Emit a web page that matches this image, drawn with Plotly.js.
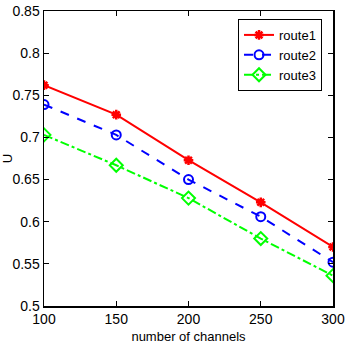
<!DOCTYPE html>
<html><head><meta charset="utf-8">
<script src="https://cdn.plot.ly/plotly-3.0.1.min.js"></script>
<style>html,body{margin:0;padding:0;background:#fff}#c{width:353px;height:349px}</style>
</head><body><div id="c"></div>
<script>
const channels = [100, 150, 200, 250, 300];
const route1 = [0.762, 0.727, 0.673, 0.623, 0.570];
const route2 = [0.739, 0.703, 0.650, 0.606, 0.552];
const route3 = [0.703, 0.667, 0.628, 0.580, 0.536];
const xTicks = [100, 150, 200, 250, 300];
const yTicks = [0.5, 0.55, 0.6, 0.65, 0.7, 0.75, 0.8, 0.85];
const yTickText = ['0.5', '0.55', '0.6', '0.65', '0.7', '0.75', '0.8', '0.85'];

const FONT = 'Liberation Sans, Arial, sans-serif';

const traces = [
  {x: channels, y: route1, name: 'route1', mode: 'lines+markers',
   line: {color: '#ff0000', width: 2},
   marker: {symbol: 'asterisk-open', size: 8, color: '#ff0000', line: {color: '#ff0000', width: 2.5}}},
  {x: channels, y: route2, name: 'route2', mode: 'lines+markers',
   line: {color: '#0000ff', width: 2, dash: 'dash'},
   marker: {symbol: 'circle-open', size: 9, color: '#0000ff', line: {color: '#0000ff', width: 2}}},
  {x: channels, y: route3, name: 'route3', mode: 'lines+markers',
   line: {color: '#00ff00', width: 2, dash: 'dashdot'},
   marker: {symbol: 'diamond-open', size: 10, color: '#00ff00', line: {color: '#00ff00', width: 2}}}
];

const axisCommon = {
  showline: true, mirror: 'ticks', linecolor: '#000', linewidth: 1.5,
  ticks: 'inside', ticklen: 5, tickcolor: '#000', tickwidth: 1,
  showgrid: false, zeroline: false,
  tickfont: {family: FONT, size: 14, color: '#000'}
};

const layout = {
  width: 353, height: 349,
  margin: {l: 44, r: 20, t: 11, b: 43},
  paper_bgcolor: '#fff', plot_bgcolor: '#fff',
  showlegend: true,
  legend: {x: 0.962, y: 0.973, xanchor: 'right', yanchor: 'top',
    bordercolor: '#000', borderwidth: 1, bgcolor: '#fff',
    font: {family: FONT, size: 13, color: '#000'},
    tracegroupgap: 0, itemwidth: 30},
  xaxis: Object.assign({}, axisCommon, {range: [100, 300], tickvals: xTicks,
    title: {text: 'number of channels', standoff: 5,
      font: {family: FONT, size: 13, color: '#000'}}}),
  yaxis: Object.assign({}, axisCommon, {range: [0.5, 0.85], tickvals: yTicks, ticktext: yTickText,
    title: {text: 'U', standoff: 4,
      font: {family: FONT, size: 13, color: '#000'}}})
};

Plotly.newPlot('c', traces, layout, {displayModeBar: false, staticPlot: true});
</script></body></html>
